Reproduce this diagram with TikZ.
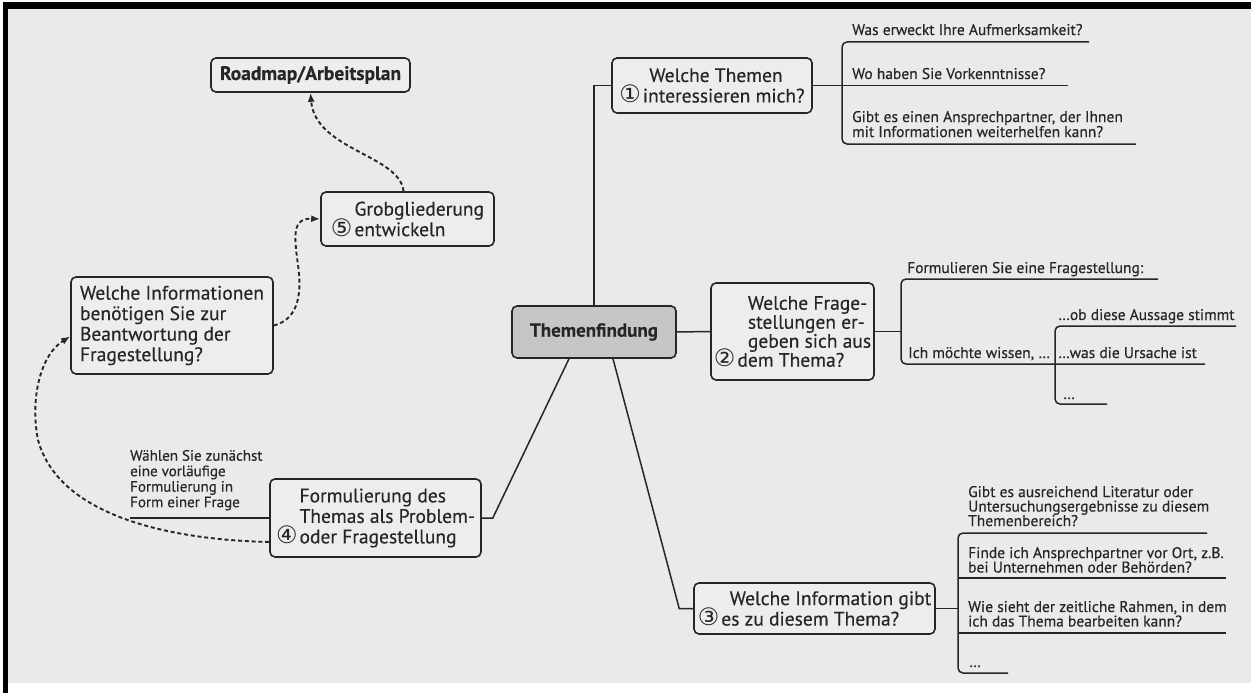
\documentclass[tikz,border=0pt]{standalone}
\usepackage{fontspec}
\setmainfont{PT Sans}[FakeBold=0.3]
\newfontfamily\circfont{DejaVu Sans}
\usetikzlibrary{calc,arrows.meta}
\definecolor{bg}{HTML}{EAEAEA}
\definecolor{ink}{HTML}{262626}
\definecolor{boxfill}{HTML}{EDEDED}
\definecolor{centerfill}{HTML}{C6C6C6}
\newcommand\circnum[1]{{\fontsize{24}{20}\selectfont\circfont\smash{#1}}\hspace{2pt}}
\newcommand\circind{\hphantom{\circnum{①}}}
\newcommand\tightls{\lineskiplimit -20pt\relax}
\tikzset{
  mainbox/.style={draw=ink, line width=1.6pt, rounded corners=5pt, fill=boxfill, text=ink,
    inner sep=0pt, align=left, font={\fontsize{19.5}{20.5}\selectfont\tightls}},
  boldbox/.style={mainbox, font={\bfseries\fontsize{19.5}{20}\selectfont}},
  leaf/.style={anchor=base west, inner sep=0pt, text=ink, font={\fontsize{15.5}{14.5}\selectfont\tightls}},
  leafm/.style={leaf, anchor=north west, align=left},
  conn/.style={draw=ink, line width=1.5pt},
  bracket/.style={conn, rounded corners=5pt},
  dasharrow/.style={draw=ink, line width=1.9pt, dash pattern=on 4pt off 2.8pt,
    -{Latex[length=9pt,width=7pt]}}
}
\begin{document}
\begin{tikzpicture}[x=1pt,y=-1pt]
\useasboundingbox (0,0) rectangle (1251,693);
\fill[white] (0,0) rectangle (1251,693);
\fill[bg] (8,9) rectangle (1251,683);
\fill[black] (3,2) rectangle (1251,9);
\fill[black] (3,2) rectangle (8,693);

% main boxes
\node[boldbox, minimum width=199pt, minimum height=34pt] (R) at (310.5,75) {Roadmap/Arbeitsplan};
\node[mainbox, minimum width=173pt, minimum height=54pt] (G) at (407.5,219)
  {\circind Grobgliederung\\\circnum{⑤}entwickeln};
\node[mainbox, minimum width=202pt, minimum height=97pt] (I) at (172,325.5)
  {Welche Informationen\\benötigen Sie zur\\Beantwortung der\\Fragestellung?};
\node[boldbox, fill=centerfill, minimum width=164pt, minimum height=52pt,
  font={\bfseries\fontsize{19}{20}\selectfont}] (T) at (594,332) {Themenfindung};
\node[mainbox, minimum width=200pt, minimum height=55pt] (W1) at (712,85.5)
  {\hspace*{30pt}Welche Themen\\\circnum{①}interessieren mich?};
\node[mainbox, minimum width=163pt, minimum height=97pt,
  font={\fontsize{19.5}{19}\selectfont\tightls}] (W2) at (792.5,331.5)
  {\hspace*{34pt}Welche Frage-\\\hspace*{34pt}stellungen er-\\\hspace*{34pt}geben sich aus\\\circnum{②}dem Thema?};
\node[mainbox, minimum width=211pt, minimum height=78pt] (F) at (375.5,518)
  {\circind Formulierung des\\\circind Themas als Problem-\\\circnum{④}oder Fragestellung};
\node[mainbox, minimum width=241pt, minimum height=51pt] (W3) at (814.5,608.5)
  {\hspace*{32pt}Welche Information gibt\\\circnum{③}es zu diesem Thema?};

% connectors from the centre
\draw[conn] (T.north) |- (W1.west);
\draw[conn] (T.east) -- (W2.west);
\draw[conn] ($(T.south)+(-25,0)$) -- ($(F.east)+(11,0)$) -- (F.east);
\draw[conn] ($(T.south)+(19,0)$) -- ($(W3.west)+(-14,0)$) -- (W3.west);

% branch 1
\coordinate (b1) at (842,0);
\coordinate (m1) at (1068,0);
\draw[conn] (W1.east) -- (W1.east -| m1);
\draw[bracket] (1089,42) -- (842,42) -- (842,144) -- (1136,144);
\node[leaf] (l1a) at (852,35) {Was erweckt Ihre Aufmerksamkeit?};
\node[leaf] (l1b) at (852,79) {Wo haben Sie Vorkenntnisse?};
\node[leafm, font={\fontsize{15.5}{15}\selectfont\tightls}] (l1c) at (852,110.8)
  {Gibt es einen Ansprechpartner, der Ihnen\\mit Informationen weiterhelfen kann?};

% branch 2
\coordinate (b2) at (901,0);
\draw[conn] (W2.east) -- (W2.east -| b2);
\draw[bracket] (1158,279) -- (901,279) -- (901,364) -- (1205,364);
\draw[bracket] (1236,326) -- (1055,326) -- (1055,404) -- (1107,404);
\node[leaf] (l2a) at (907,273) {Formulieren Sie eine Fragestellung:};
\node[leaf] (l2b) at (908,358) {Ich möchte wissen, …};
\node[leaf] (l2c) at (1058,320) {…ob diese Aussage stimmt};
\node[leaf] (l2d) at (1058,358) {…was die Ursache ist};
\node[leaf] (l2e) at (1063,399) {…};

% branch 3
\coordinate (b3) at (958,0);
\draw[conn] (W3.east) -- (W3.east -| b3);
\draw[bracket] (1207,533) -- (958,533) -- (958,673) -- (1008,673);
\draw[conn] (958,578) -- (1226,578);
\draw[conn] (958,633) -- (1226,633);
\node[leafm] (l3a) at (968,485.8) {Gibt es ausreichend Literatur oder\\Untersuchungsergebnisse zu diesem\\Themenbereich?};
\node[leafm] (l3b) at (968,546.8) {Finde ich Ansprechpartner vor Ort, z.B.\\bei Unternehmen oder Behörden?};
\node[leafm] (l3c) at (968,600.8) {Wie sieht der zeitliche Rahmen, in dem\\ich das Thema bearbeiten kann?};
\node[leaf] (l3d) at (969,667) {…};

% branch 4
\coordinate (fl) at (130,0);
\draw[conn] (F.west) -- (F.west -| fl);
\node[leafm, font={\fontsize{15}{15.5}\selectfont\tightls}] (l4) at (130,449.8)
  {Wählen Sie zunächst\\eine vorläufige\\Formulierung in\\Form einer Frage};

% dashed arrows
\draw[dasharrow] ($(G.north)+(-4,0)$) .. controls (400,155) and (315,150) .. (R.south);
\draw[dasharrow] (I.east) .. controls (295,320) and (303,300) .. (298,265)
  .. controls (294,235) and (292,218) .. (G.west);
\draw[dasharrow] ($(F.west)+(0,24)$) .. controls (180,540) and (60,520) .. (38,440)
  .. controls (30,400) and (40,355) .. ($(I.west)+(0,11)$);
\end{tikzpicture}
\end{document}
